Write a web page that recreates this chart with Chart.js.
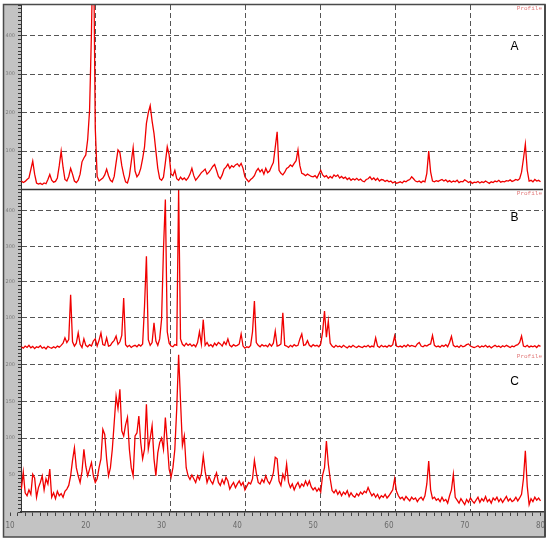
<!DOCTYPE html>
<html>
<head>
<meta charset="utf-8">
<title>XRD profiles A, B, C</title>
<script src="https://cdn.jsdelivr.net/npm/chart.js@4.4.1/dist/chart.umd.min.js"></script>
<style>
  html, body { margin: 0; padding: 0; background: #fff; }
  #wrap { width: 550px; height: 542px; }
</style>
</head>
<body>
<div id="wrap"><canvas id="xrd" width="550" height="542"></canvas></div>
<script>
(function () {
  'use strict';

  // 2-theta sampling of the traces (one value every 0.25 deg, 11.5 .. 80)
  var THETA_START = 11.5;
  var THETA_STEP = 0.25;

  var X_LABELS = [10, 20, 30, 40, 50, 60, 70, 80];
  var V_GRID = [21.3, 31.2, 41.1, 51.0, 60.9, 70.8];
  var A_LABELS = [100, 200, 300, 400];
  var B_LABELS = [100, 200, 300, 400];
  var C_LABELS = [50, 100, 150, 200];
  var PANEL_NAMES = ['A', 'B', 'C'];

  var A_COUNTS = [
    22, 18, 21, 26, 30, 52, 74, 40, 17, 14, 16, 13, 17, 15, 26, 39, 24, 19, 21, 30,
    62, 100, 58, 26, 22, 34, 55, 40, 22, 18, 24, 40, 72, 82, 90, 130, 206, 410, 700, 160,
    34, 22, 26, 30, 38, 53, 36, 24, 20, 34, 70, 103, 96, 62, 38, 20, 17, 35, 72, 109,
    48, 33, 40, 55, 80, 111, 172, 200, 218, 178, 146, 100, 55, 28, 24, 32, 70, 111, 90, 40,
    36, 50, 28, 24, 32, 26, 30, 24, 30, 40, 55, 36, 24, 30, 37, 44, 48, 53, 40, 45,
    52, 60, 65, 50, 34, 28, 38, 53, 58, 66, 55, 62, 58, 64, 67, 60, 68, 55, 33, 26,
    20, 26, 30, 36, 48, 55, 46, 52, 40, 55, 44, 48, 60, 70, 110, 150, 50, 42, 38, 45,
    55, 58, 64, 60, 68, 75, 103, 62, 42, 40, 36, 40, 37, 34, 33, 36, 30, 40, 50, 38,
    33, 36, 29, 34, 30, 38, 34, 38, 30, 34, 29, 32, 26, 30, 24, 28, 25, 29, 24, 27,
    22, 20, 26, 28, 33, 26, 30, 24, 29, 22, 26, 25, 21, 24, 20, 22, 17, 20, 16, 18,
    20, 17, 22, 20, 24, 26, 33, 28, 22, 20, 22, 18, 22, 20, 42, 100, 46, 22, 20, 23,
    21, 24, 26, 22, 25, 20, 23, 19, 22, 20, 24, 18, 21, 20, 25, 22, 18, 21, 16, 19,
    18, 21, 17, 20, 18, 22, 19, 16, 20, 18, 22, 20, 24, 19, 21, 20, 23, 22, 25, 21,
    23, 26, 24, 28, 45, 80, 118, 50, 22, 24, 20, 26, 22, 24, 20
  ];

  var B_COUNTS = [
    18, 14, 20, 16, 22, 15, 19, 13, 18, 16, 21, 14, 17, 12, 19, 16, 14, 18, 15, 20,
    17, 22, 28, 43, 30, 38, 164, 32, 20, 28, 57, 25, 16, 40, 22, 18, 24, 20, 34, 40,
    20, 36, 57, 24, 22, 43, 20, 22, 30, 36, 48, 25, 32, 50, 155, 24, 18, 22, 16, 20,
    22, 18, 24, 20, 26, 132, 272, 38, 22, 30, 85, 34, 22, 40, 95, 291, 431, 60, 28, 20,
    18, 24, 22, 459, 40, 25, 20, 28, 22, 26, 20, 24, 18, 30, 60, 26, 94, 22, 30, 20,
    24, 18, 28, 22, 30, 26, 20, 32, 24, 40, 22, 18, 24, 20, 22, 26, 54, 20, 14, 18,
    16, 22, 60, 146, 30, 22, 18, 24, 20, 22, 18, 26, 20, 28, 62, 20, 22, 26, 113, 22,
    20, 16, 22, 18, 24, 20, 22, 40, 54, 22, 24, 35, 22, 18, 24, 20, 22, 18, 26, 60,
    118, 45, 90, 28, 20, 16, 22, 18, 20, 16, 22, 18, 15, 20, 17, 22, 18, 16, 20, 18,
    16, 20, 18, 22, 17, 20, 18, 43, 20, 16, 22, 18, 20, 17, 22, 19, 24, 48, 20, 18,
    20, 17, 22, 18, 24, 19, 22, 20, 18, 26, 30, 20, 18, 22, 20, 24, 26, 50, 22, 18,
    20, 17, 22, 19, 24, 18, 30, 47, 22, 18, 20, 16, 22, 18, 20, 24, 26, 20, 18, 16,
    18, 21, 16, 20, 18, 22, 17, 20, 15, 19, 22, 18, 20, 16, 21, 18, 22, 19, 16, 20,
    18, 22, 24, 30, 48, 20, 18, 22, 17, 20, 18, 21, 16, 22, 19
  ];

  var C_COUNTS = [
    31, 54, 26, 22, 30, 24, 51, 46, 20, 33, 40, 49, 30, 45, 38, 58, 20, 26, 18, 28,
    22, 25, 20, 28, 31, 36, 49, 70, 87, 60, 49, 40, 55, 85, 62, 49, 58, 67, 49, 40,
    45, 60, 72, 112, 105, 72, 49, 60, 85, 121, 157, 140, 166, 110, 103, 118, 128, 85, 60, 49,
    103, 107, 130, 94, 72, 85, 146, 85, 100, 117, 72, 49, 80, 94, 100, 85, 128, 94, 58, 47,
    60, 85, 140, 213, 150, 90, 103, 60, 49, 44, 50, 45, 40, 49, 44, 52, 76, 55, 40, 48,
    42, 38, 46, 53, 40, 36, 44, 38, 47, 42, 31, 36, 40, 33, 38, 42, 36, 40, 30, 35,
    40, 38, 45, 70, 53, 40, 38, 44, 40, 49, 42, 38, 44, 53, 74, 72, 42, 36, 51, 44,
    65, 40, 33, 38, 30, 36, 40, 33, 38, 35, 42, 36, 42, 34, 30, 33, 28, 32, 27, 50,
    60, 96, 65, 45, 29, 26, 30, 24, 28, 22, 27, 24, 29, 21, 26, 22, 20, 25, 22, 27,
    24, 28, 26, 33, 27, 22, 25, 20, 24, 18, 22, 20, 24, 19, 22, 26, 30, 45, 28, 22,
    18, 20, 16, 21, 18, 15, 20, 17, 19, 14, 18, 20, 16, 22, 38, 69, 30, 18, 20, 16,
    18, 14, 20, 15, 17, 12, 22, 30, 51, 20, 16, 12, 18, 14, 10, 17, 13, 19, 15, 12,
    16, 20, 13, 18, 15, 21, 14, 17, 12, 19, 16, 20, 14, 18, 13, 17, 21, 15, 18, 14,
    16, 20, 15, 19, 24, 45, 83, 35, 10, 18, 14, 20, 16, 19, 15
  ];

  var X_MIN = 11.451;
  var X_MAX = 80.33;
  var LINE_RED = '#f00000';
  var GRID_COLOR = '#555555';
  var STRIP_GRAY = '#c3c3c3';
  var FRAME = { left: 3, top: 4.5, right: 545, bottom: 537 };

  function toPoints(counts) {
    return counts.map(function (v, i) {
      return { x: THETA_START + i * THETA_STEP, y: v };
    });
  }

  function panelAxis(max, minorStep, labels, weight) {
    return {
      type: 'linear',
      position: 'left',
      stack: 'xrd',
      stackWeight: weight,
      min: 0,
      max: max,
      afterBuildTicks: function (s) {
        var t = [];
        for (var v = 0; v <= max; v += minorStep) t.push({ value: v });
        s.ticks = t;
      },
      afterFit: function (s) {
        s.width = 18;
        s.paddingTop = 0;
        s.paddingBottom = 0;
      },
      ticks: {
        autoSkip: false,
        padding: 3,
        color: '#7c7c7c',
        font: { size: 5, family: 'DejaVu Sans' },
        callback: function (v) { return labels.indexOf(v) >= 0 ? String(v) : ''; }
      },
      grid: {
        color: function (c) {
          return c.tick && labels.indexOf(c.tick.value) >= 0 ? GRID_COLOR : 'rgba(0,0,0,0)';
        },
        lineWidth: 1,
        tickLength: 3,
        tickColor: '#3a3a3a'
      },
      border: { display: true, color: '#333', width: 1, dash: [5, 3] }
    };
  }

  var framePlugin = {
    id: 'xrdFrame',
    beforeDraw: function (chart) {
      var ctx = chart.ctx;
      var a = chart.chartArea;
      ctx.save();
      ctx.fillStyle = '#fff';
      ctx.fillRect(0, 0, chart.width, chart.height);
      ctx.fillStyle = STRIP_GRAY;
      ctx.fillRect(FRAME.left, FRAME.top, a.left - FRAME.left, FRAME.bottom - FRAME.top);
      ctx.fillRect(FRAME.left, a.bottom, FRAME.right - FRAME.left, FRAME.bottom - a.bottom);
      ctx.restore();
    },
    afterDraw: function (chart) {
      var ctx = chart.ctx;
      var a = chart.chartArea;
      ctx.save();
      // separator between A and B
      ctx.strokeStyle = '#333';
      ctx.lineWidth = 1.5;
      ctx.beginPath();
      ctx.moveTo(a.left, chart.scales.yA.bottom);
      ctx.lineTo(a.right, chart.scales.yA.bottom);
      ctx.stroke();
      // outer frame
      ctx.strokeStyle = '#4a4a4a';
      ctx.lineWidth = 1.5;
      ctx.strokeRect(FRAME.left + 0.5, FRAME.top, FRAME.right - FRAME.left - 0.5, FRAME.bottom - FRAME.top);
      ctx.lineWidth = 2;
      ctx.beginPath();
      ctx.moveTo(FRAME.right, FRAME.top);
      ctx.lineTo(FRAME.right, FRAME.bottom);
      ctx.stroke();

      var offsets = [41.5, 28, 28.5];
      ['yA', 'yB', 'yC'].forEach(function (id, i) {
        var s = chart.scales[id];
        ctx.fillStyle = '#000';
        ctx.font = '12px "Liberation Sans", Arial, sans-serif';
        ctx.textAlign = 'center';
        ctx.textBaseline = 'middle';
        ctx.fillText(PANEL_NAMES[i], a.right - 28.5, s.top + offsets[i]);
        ctx.fillStyle = '#e27a7a';
        ctx.font = '6px "Liberation Mono", "DejaVu Sans Mono", monospace';
        ctx.textAlign = 'right';
        ctx.fillText('Profile', a.right - 1, s.top + 3.5);
      });
      ctx.restore();
    }
  };

  function traceDataset(label, counts, axisId) {
    return {
      label: label,
      data: toPoints(counts),
      xAxisID: 'x',
      yAxisID: axisId,
      borderColor: LINE_RED,
      borderWidth: 1.3,
      pointRadius: 0,
      tension: 0,
      fill: false
    };
  }

  new Chart(document.getElementById('xrd'), {
    type: 'line',
    data: {
      datasets: [
        traceDataset('A', A_COUNTS, 'yA'),
        traceDataset('B', B_COUNTS, 'yB'),
        traceDataset('C', C_COUNTS, 'yC')
      ]
    },
    options: {
      responsive: false,
      animation: false,
      devicePixelRatio: 1,
      layout: { padding: { left: 3, right: 7, top: 5, bottom: 5 } },
      plugins: { legend: { display: false }, tooltip: { enabled: false } },
      scales: {
        x: {
          type: 'linear',
          position: 'bottom',
          min: X_MIN,
          max: X_MAX,
          afterBuildTicks: function (s) {
            var t = [];
            for (var v = X_LABELS[0]; v <= X_LABELS[X_LABELS.length - 1]; v += 1) t.push({ value: v });
            s.ticks = t;
          },
          afterFit: function (s) {
            s.height = 25;
            s.paddingLeft = 0;
            s.paddingRight = 0;
          },
          ticks: {
            autoSkip: false,
            maxRotation: 0,
            minRotation: 0,
            padding: 5,
            color: '#6a6a6a',
            font: { size: 8, family: '"DejaVu Sans Condensed", "Liberation Sans Narrow", "Liberation Sans", sans-serif' },
            callback: function (v) { return X_LABELS.indexOf(v) >= 0 ? String(v) : ''; }
          },
          grid: { drawOnChartArea: false, tickLength: 4, tickColor: '#444' },
          border: { display: true, color: '#333', width: 1.5 }
        },
        xg: {
          type: 'linear',
          position: 'top',
          min: X_MIN,
          max: X_MAX,
          afterBuildTicks: function (s) {
            s.ticks = V_GRID.map(function (v) { return { value: v }; });
          },
          afterFit: function (s) {
            s.height = 0;
            s.paddingLeft = 0;
            s.paddingRight = 0;
          },
          ticks: { display: false },
          grid: { color: GRID_COLOR, lineWidth: 1, drawTicks: false },
          border: { display: false, dash: [5, 3] }
        },
        // stacked left axes are laid out last-defined on top
        yC: panelAxis(215, 5, C_LABELS, 158.8),
        yB: panelAxis(459, 10, B_LABELS, 163.7),
        yA: panelAxis(480, 10, A_LABELS, 184.5)
      }
    },
    plugins: [framePlugin]
  });
})();
</script>
</body>
</html>
